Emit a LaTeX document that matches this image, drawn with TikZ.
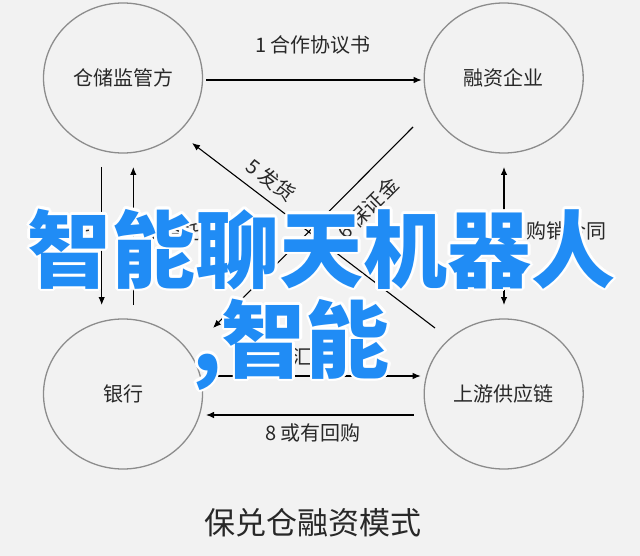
\documentclass[tikz,border=0pt]{standalone}
\usepackage{fontspec}
\setmainfont{Noto Sans CJK SC}
\usetikzlibrary{arrows.meta,shapes.geometric,calc}
\definecolor{bg}{RGB}{242,242,242}
\definecolor{ring}{RGB}{140,140,140}
\definecolor{ink}{RGB}{40,40,40}
\definecolor{brand}{RGB}{32,140,245}
\begin{document}
\begin{tikzpicture}[x=1pt,y=-1pt,
  party/.style={ellipse,draw=ring,line width=1.3pt,minimum width=159pt,minimum height=150pt,inner sep=0pt,font=\fontsize{20}{24}\selectfont,text=ink},
  arr/.style={-{Latex[length=8pt,width=6.5pt]},line width=1.1pt,black},
  dblarr/.style={{Latex[length=8pt,width=6.5pt]}-{Latex[length=8pt,width=6.5pt]},line width=1.1pt,black},
  lbl/.style={font=\fontsize{20}{24}\selectfont,text=ink,inner sep=0pt},
  big/.style={font=\fontsize{84}{90}\selectfont\bfseries,inner sep=0pt},
]
\fill[bg] (0,0) rectangle (640,556);
\useasboundingbox (0,0) rectangle (640,556);

\node[party] (tl) at (123,78) {仓储监管方};
\node[party] (tr) at (503.7,78) {融资企业};
\node[party] (bl) at (123,394) {银行};
\node[party] (br) at (503.7,394) {上游供应链};

% horizontal connectors
\draw[arr] ($(tl)+(83,2)$) -- ($(tr)+(-82,2)$);
\draw[arr] ($(bl)+(83,-18)$) -- ($(br)+(-83,-18)$);
\draw[arr] ($(br)+(-90,21)$) -- ($(bl)+(83,21)$);

% vertical connectors
\draw[arr] ($(tl)+(-21.3,89)$) -- ($(bl)+(-21.3,-89)$);
\draw[arr] ($(bl)+(10.3,-89)$) -- ($(tl)+(10.3,89)$);
\draw[dblarr] ($(tr)+(0.3,89)$) -- ($(br)+(0.3,-89)$);

% diagonal connectors
\draw[arr] ($(tr)+(-90.7,49)$) -- ($(bl)+(90,-66)$);
\draw[arr] ($(br)+(-68.7,-66)$) -- ($(tl)+(69,65)$);

% labels
\node[lbl] (l1) at (313,45) {1 合作协议书};
\node[lbl,anchor=west] (l2) at (511,231) {2 购销合同};
\node[lbl,anchor=west] (l3) at (146,232) {3 委托};
\node[lbl,anchor=west] (l4) at (35,232) {4 委托};
\node[lbl,rotate=-37.3] (l5) at (271,180) {5 发货};
\node[lbl,rotate=45] (l6) at (368,208) {6 保证金};
\node[lbl] (l7) at (305,357) {7 汇票};
\node[lbl] (l8) at (313,433) {8 或有回购};
\node[font=\fontsize{31}{36}\selectfont,text=ink,inner sep=0pt] (ttl) at (313,523) {保兑仓融资模式};

% overlay text with white halo
\foreach \a [count=\i] in {0,22.5,...,337.5} {
  \node[big,text=white,anchor=base] (halo1\i) at ($(321.5,281)+(\a:2.6)$) {智能聊天机器人};
  \node[big,text=white,anchor=base east] (halo2\i) at ($(390,371)+(\a:2.6)$) {,智能};
}
\node[big,text=brand,anchor=base] (wm1) at (321.5,281) {智能聊天机器人};
\node[big,text=brand,anchor=base east] (wm2) at (390,371) {,智能};
\end{tikzpicture}
\end{document}
